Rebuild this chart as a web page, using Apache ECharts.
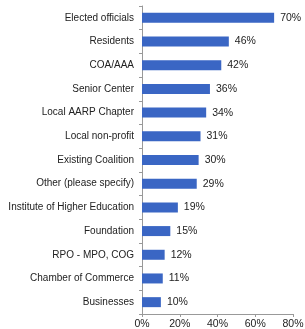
<!DOCTYPE html>
<html>
<head>
<meta charset="utf-8">
<script src="https://cdn.jsdelivr.net/npm/echarts@6/dist/echarts.min.js"></script>
<style>
  html, body { margin: 0; padding: 0; background: #fff; }
  #main { width: 305px; height: 329px; }
</style>
</head>
<body>
<div id="main"></div>
<script>
// categories, top to bottom
var categories = [
  'Elected officials', 'Residents', 'COA/AAA', 'Senior Center',
  'Local AARP Chapter', 'Local non-profit', 'Existing Coalition',
  'Other (please specify)', 'Institute of Higher Education', 'Foundation',
  'RPO - MPO, COG', 'Chamber of Commerce', 'Businesses'
];
var values = [70, 46, 42, 36, 34, 31, 30, 29, 19, 15, 12, 11, 10];
var xTicks = [0, 20, 40, 60, 80];

var chart = echarts.init(document.getElementById('main'));

var option = {
  animation: false,
  grid: { left: 142, right: 12, top: 6, bottom: 15, containLabel: false, outerBoundsMode: 'none' },
  xAxis: {
    type: 'value',
    min: xTicks[0],
    max: xTicks[xTicks.length - 1],
    interval: 20,
    axisLine: { show: true, lineStyle: { color: '#999' } },
    axisTick: { show: true, length: 3, lineStyle: { color: '#999' } },
    splitLine: { show: false },
    axisLabel: {
      formatter: '{value}%',
      color: '#222',
      fontSize: 10.5,
      fontFamily: 'Liberation Sans',
      margin: 5
    }
  },
  yAxis: {
    type: 'category',
    inverse: true,
    data: categories,
    axisLine: { show: true, lineStyle: { color: '#999' } },
    axisTick: { show: true, length: 3, lineStyle: { color: '#999' } },
    axisLabel: {
      color: '#222',
      fontSize: 10,
      fontFamily: 'Liberation Sans',
      margin: 8
    }
  },
  series: [{
    type: 'bar',
    data: values,
    barWidth: 10,
    itemStyle: { color: '#3A66C4' },
    label: {
      show: true,
      position: 'right',
      formatter: '{c}%',
      color: '#222',
      fontSize: 10.5,
      fontFamily: 'Liberation Sans',
      distance: 6
    }
  }]
};

chart.setOption(option);
</script>
</body>
</html>
